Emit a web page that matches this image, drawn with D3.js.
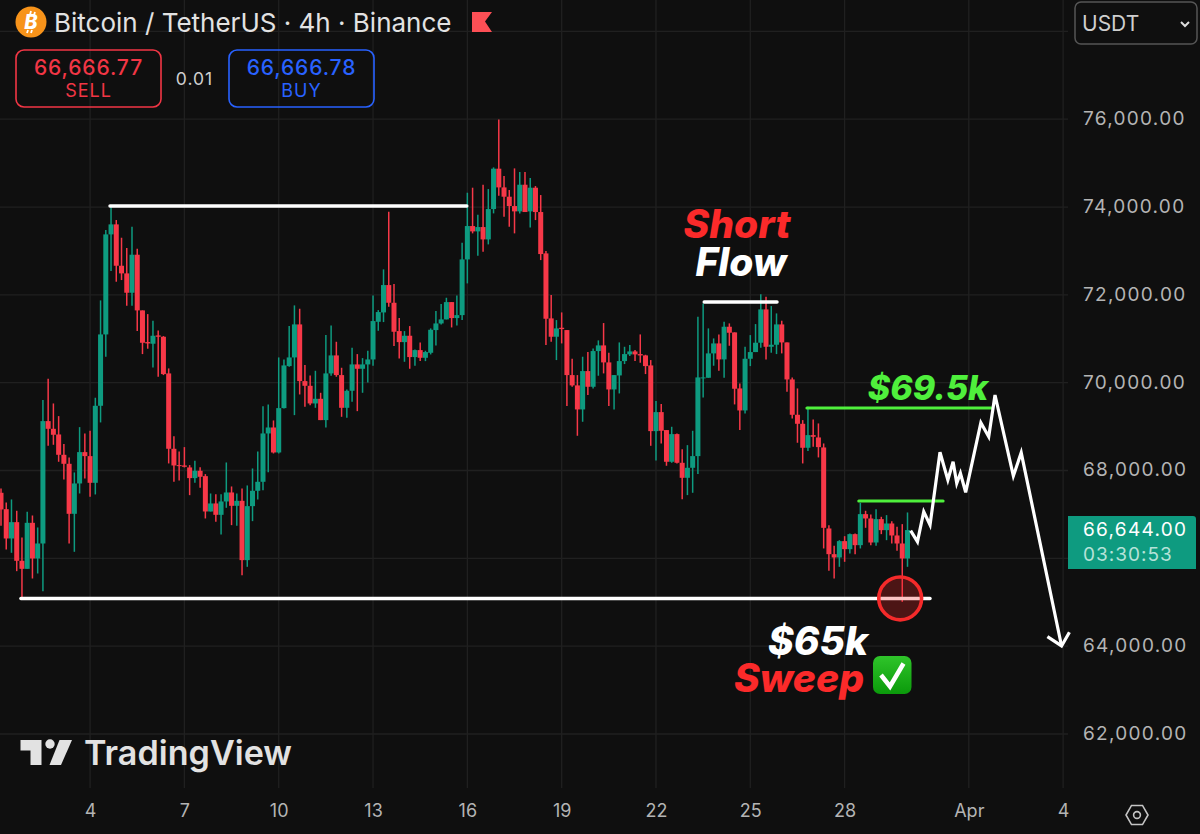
<!DOCTYPE html>
<html>
<head>
<meta charset="utf-8">
<style>
  html, body { margin: 0; padding: 0; background: #0f0f0f; }
  svg { display: block; font-family: Inter, "Noto Sans", sans-serif; }
  .annot { font-family: Inter, "Liberation Sans", sans-serif; font-weight: 800; font-style: italic; text-anchor: middle; }
</style>
<script src="https://cdn.jsdelivr.net/npm/d3@7/dist/d3.min.js"></script>
</head>
<body>
<svg id="chart" width="1200" height="834"></svg>
<script>
// BTC/USDT 4h candles, oldest first
const opens = [
67493,67120,66452,66824,65944,65761,66809,65997,66338,69125,
68950,68821,68358,68153,67014,67705,68419,68328,67720,69474,
71099,73377,73605,72663,72489,72048,72914,71646,70925,70887,
71076,71046,70211,68495,68123,68115,68070,67827,67994,67872,
67067,67250,66991,67295,67500,67196,67310,65959,67189,67538,
67743,68844,68980,68411,69421,70378,70575,71327,70036,69929,
69527,69633,69148,70211,70621,70173,69428,69816,70416,70317,
70416,70529,71387,71600,72223,71820,71175,70924,71069,70583,
70742,70567,70681,71198,71349,71441,71835,71471,71539,72807,
73567,73445,73544,73263,73954,74873,74447,74235,74022,73901,
74508,73901,74440,73886,72944,71464,71046,71251,71198,70173,
69938,69391,70264,69907,70720,70849,70462,69846,70165,70492,
70644,70712,70651,70621,70393,68897,69330,68921,68199,68829,
68176,67834,68062,68328,70105,70112,70667,70894,70530,71274,
71145,69869,69368,70545,70697,70910,71669,70818,70864,71327,
70917,70074,69269,69064,68518,68806,68753,68525,66680,66095,
66020,66392,66209,66551,66300,67007,66908,66361,66893,66642,
66794,66521,66338,65997];
const closes = [
67113,66452,66824,65944,65761,66809,65997,66338,69125,68950,
68814,68358,68153,67014,67705,68419,68328,67720,69474,71099,
73377,73605,72663,72489,72048,72914,71646,70909,70894,71069,
71046,70196,68495,68115,68100,68085,67827,67994,67857,67067,
67250,66991,67295,67500,67196,67310,65959,67189,67538,67743,
68844,68980,68411,69421,70393,70575,71327,70036,69929,69527,
69633,69148,70211,70621,70173,69428,69816,70416,70317,70416,
70529,71403,71608,72223,71820,71160,70924,71069,70583,70742,
70567,70697,71205,71349,71441,71835,71471,71539,72807,73567,
73445,73544,73263,73954,74873,74447,74235,74022,73901,74508,
73886,74440,73886,72929,71456,71046,71236,71221,70173,69938,
69391,70264,69907,70720,70849,70462,69846,70173,70492,70651,
70712,70644,70621,70378,68897,69330,68905,68199,68829,68176,
67834,68062,68328,70120,70120,70667,70894,70530,71274,71137,
69862,69368,70545,70697,70910,71669,70818,70864,71327,70917,
70074,69269,69064,68518,68806,68768,68533,66695,66095,66020,
66392,66209,66551,66300,67007,66908,66361,66893,66642,66794,
66521,66338,65997,66644];
const highs = [
67591,67272,67341,67083,66475,67060,66976,66703,69603,70089,
69527,69239,68601,68297,67956,68988,68844,68905,69657,71874,
73476,74007,73704,73301,73066,73552,73051,71646,71562,71411,
71190,71061,70325,68783,68434,68533,68123,68221,68077,67918,
67477,67462,67462,68183,67637,67477,67591,67660,68047,68434,
69466,69504,69140,70575,70529,71289,71760,71684,70400,70165,
70271,69770,71084,71304,70932,70340,69846,70795,70651,70560,
70727,71987,71653,72580,73893,72245,71471,71175,71289,70757,
70917,70727,71236,71630,71790,71934,71835,71987,73187,74326,
74440,73825,74508,74409,74903,75996,74706,74387,74880,74797,
74797,74660,74478,74273,73000,71995,71426,71600,71198,70545,
70173,70591,70697,70780,70963,71358,70682,70173,70917,70818,
70856,70742,71099,70636,70515,69581,69512,68921,68996,68844,
68487,68578,68905,71502,71805,71236,71008,71099,71388,71350,
71145,69983,70818,71084,71335,72011,71957,71745,71578,71411,
70917,70120,69869,69148,69452,69163,69072,68616,66756,66285,
66414,66505,66566,66566,67265,67083,66999,67120,66946,66984,
66847,66718,66779,67045];
const lows = [
66741,66202,66126,65708,65108,65761,65541,65655,65253,68563,
68586,68199,67796,66338,66149,67477,67819,67401,67455,69095,
70590,72542,72299,72337,71752,71752,71175,70651,70773,70348,
70135,70173,68161,67743,67774,68070,67439,67720,67606,66908,
67067,66832,66543,67151,66756,66741,65617,65807,66847,67341,
67553,67963,68388,68388,69413,70362,69261,69732,69451,69489,
69428,69148,68980,70157,70135,69223,69201,69565,69352,69770,
70005,70385,71182,71380,71729,70833,70552,70476,70317,70385,
70491,70491,70643,70848,71327,71441,71258,71304,71425,72261,
73400,72891,72982,73149,73855,74258,73779,73551,73400,73855,
73886,73536,73703,72792,70856,70932,70515,70894,69467,69907,
68791,69110,69717,69869,70158,70211,69467,69391,69755,70424,
70606,70492,70454,70196,68563,68229,68616,68108,68176,68161,
67348,67440,67493,67918,69664,70112,70386,70272,70112,70841,
69505,68920,69300,70378,70697,70796,70530,70682,70651,70667,
69793,69186,68632,68161,68442,68541,68298,66225,65716,65541,
65807,65921,66111,66095,66225,66695,66300,66285,66551,66414,
66338,66171,65010,65807];

// Axis ticks: bar index of each date label, and the price levels
const dateTickBars = [17, 35, 53, 71, 89, 107, 125, 143, 161, 184.7, 202.7];
const dateTickLabels = ["4", "7", "10", "13", "16", "19", "22", "25", "28", "Apr", "4"];
const priceTicks = [76000, 74000, 72000, 70000, 68000, 64000, 62000];
const priceGrid = [78000, 76000, 74000, 72000, 70000, 68000, 66000, 64000, 62000];

// Drawn levels: [startBar, endBar, price]
const whiteLevels = [[20.8, 88.9, 74024], [134.2, 148.1, 71838], [3.8, 177.3, 65087]];
const greenLevels = [[153.8, 189, 69424], [163.7, 179.8, 67307]];

// Projected price route, drawn past the last candle
const routeBars = [173.6,174.9,176.1,177.3,179.2,180.7,181.7,182.4,183.1,184.1,187.0,188.5,189.7,193.2,194.7,202.4];
const routePrices = [66630,66380,67063,66760,68415,67785,68201,67709,67937,67504,69089,68770,69720,67876,68406,64005];
const arrowBars = [199.7, 202.4, 203.9];
const arrowPrices = [64217, 64005, 64317];

const sweepPoint = [171.6, 65087];

const colors = {
  bg: "#0f0f0f", grid: "#202020", up: "#0e9b80", down: "#f73848",
  axisText: "#b4b4b4", title: "#e2e2e2", neon: "#4ff03c", alert: "#f52a2a", blue: "#2962ff"
};

const svg = d3.select("#chart");
svg.append("rect").attr("width", 1200).attr("height", 834).attr("fill", colors.bg);

const x = d3.scaleLinear().domain([0, 203]).range([1, 1064.7]);
const y = d3.scaleLinear().domain([76000, 62000]).range([119.2, 734]);
const plotRight = 1068, plotBottom = 788;

// Grid
const grid = svg.append("g").attr("stroke", colors.grid).attr("stroke-width", 1.3);
grid.selectAll("line.h").data(priceGrid).join("line").attr("class", "h")
  .attr("x1", 0).attr("x2", plotRight).attr("y1", y).attr("y2", y);
grid.selectAll("line.v").data(dateTickBars).join("line").attr("class", "v")
  .attr("x1", x).attr("x2", x).attr("y1", 0).attr("y2", plotBottom);

// Candles
const candles = closes.map((c, i) => ({ i, o: opens[i], h: highs[i], l: lows[i], c }));
const candleColor = d => d.c >= d.o ? colors.up : colors.down;
const plot = svg.append("g");
plot.selectAll("line.wick").data(candles).join("line").attr("class", "wick")
  .attr("x1", d => x(d.i)).attr("x2", d => x(d.i))
  .attr("y1", d => y(d.h)).attr("y2", d => y(d.l))
  .attr("stroke", candleColor).attr("stroke-width", 1.5);
const bodyWidth = 5;
plot.selectAll("rect.body").data(candles).join("rect").attr("class", "body")
  .attr("x", d => x(d.i) - bodyWidth / 2).attr("width", bodyWidth)
  .attr("y", d => y(Math.max(d.o, d.c)))
  .attr("height", d => Math.max(1, Math.abs(y(d.o) - y(d.c))))
  .attr("fill", candleColor);

// Level lines
const levels = svg.append("g").attr("stroke-linecap", "round");
levels.selectAll("line.w").data(whiteLevels).join("line").attr("class", "w")
  .attr("x1", d => x(d[0])).attr("x2", d => x(d[1]))
  .attr("y1", d => y(d[2])).attr("y2", d => y(d[2]))
  .attr("stroke", "#fff").attr("stroke-width", 3.4);
levels.selectAll("line.g").data(greenLevels).join("line").attr("class", "g")
  .attr("x1", d => x(d[0])).attr("x2", d => x(d[1]))
  .attr("y1", d => y(d[2])).attr("y2", d => y(d[2]))
  .attr("stroke", colors.neon).attr("stroke-width", 3);

// Projected route and arrow head
const routeLine = d3.line().x(d => x(d[0])).y(d => y(d[1]));
svg.append("path").datum(routeBars.map((b, i) => [b, routePrices[i]]))
  .attr("d", routeLine).attr("fill", "none").attr("stroke", "#fff")
  .attr("stroke-width", 3.2).attr("stroke-linejoin", "miter");
svg.append("path").datum(arrowBars.map((b, i) => [b, arrowPrices[i]]))
  .attr("d", routeLine).attr("fill", "none").attr("stroke", "#fff")
  .attr("stroke-width", 3.2);

// Sweep marker
svg.append("circle")
  .attr("cx", x(sweepPoint[0])).attr("cy", y(sweepPoint[1])).attr("r", 21.4)
  .attr("fill", colors.alert).attr("fill-opacity", 0.27)
  .attr("stroke", colors.alert).attr("stroke-width", 3.6);

// Callout text
const annot = (text, cx, base, size, fill) => svg.append("text").attr("class", "annot")
  .attr("x", cx).attr("y", base).attr("font-size", size).attr("fill", fill).text(text);
annot("Short", 737, 238, 39, "#fb2a2a");
annot("Flow", 741, 276, 39, "#fff");
annot("$69.5k", 928, 400, 34, colors.neon);
annot("$65k", 818, 655, 39, "#fff");
annot("Sweep", 799, 692, 39, "#fb2a2a");

// Check mark badge beside the sweep callout
const badge = svg.append("g");
const defs = svg.append("defs");
const grad = defs.append("linearGradient").attr("id", "badgeFill").attr("x1", 0).attr("x2", 0).attr("y1", 0).attr("y2", 1);
grad.append("stop").attr("offset", 0).attr("stop-color", "#2fc42a");
grad.append("stop").attr("offset", 1).attr("stop-color", "#0b9a0b");
badge.append("rect").attr("x", 873).attr("y", 656).attr("width", 38.5).attr("height", 38).attr("rx", 7).attr("fill", "url(#badgeFill)");
badge.append("path").attr("d", "M881 675 L890 686.5 L903.5 663.5").attr("fill", "none").attr("stroke", "#fff").attr("stroke-width", 4.5);

// Price axis
const yAxis = svg.append("g").attr("transform", "translate(1083,-0.7)")
  .call(d3.axisRight(y).tickValues(priceTicks).tickSize(0).tickPadding(0).tickFormat(d3.format(",.2f")));
yAxis.select(".domain").remove();
yAxis.selectAll("text").attr("fill", colors.axisText).attr("font-size", 19).attr("letter-spacing", 1.3).attr("font-family", "Inter");

// Date axis
const xAxis = svg.append("g").attr("transform", "translate(0,804)")
  .call(d3.axisBottom(x).tickValues(dateTickBars).tickSize(0).tickPadding(0)
    .tickFormat((d, i) => dateTickLabels[i]));
xAxis.select(".domain").remove();
xAxis.selectAll("text").attr("fill", colors.axisText).attr("font-size", 18).attr("font-family", "Inter");

// Last price tag
svg.append("path").attr("d", "M1068 516 H1193 a3 3 0 0 1 3 3 V569 H1068 Z").attr("fill", "#0e9b80");
svg.append("text").attr("x", 1083).attr("y", 536).attr("font-size", 19).attr("letter-spacing", 1.3).attr("fill", "#fff").text("66,644.00");
svg.append("text").attr("x", 1083).attr("y", 561).attr("font-size", 19).attr("letter-spacing", 1).attr("fill", "#b5e2d8").text("03:30:53");

// Symbol header
const coin = svg.append("g").attr("transform", "translate(31,22)");
coin.append("circle").attr("r", 15.5).attr("fill", "#f7931a");
coin.append("text").attr("text-anchor", "middle").attr("y", 7).attr("font-size", 20).attr("font-weight", 800)
  .attr("font-style", "italic").attr("fill", "#fff").text("B");
coin.append("path").attr("d", "M0 -11 L-1 -7 M4 -10 L3 -7 M-3 8 L-4 11 M1 8 L0 11").attr("stroke", "#fff").attr("stroke-width", 1.8);
svg.append("text").attr("x", 54).attr("y", 32).attr("font-size", 26).attr("fill", colors.title)
  .text("Bitcoin / TetherUS · 4h · Binance");
svg.append("path").attr("d", "M472 12 H492 L485 21.5 L492 32 H472 Z").attr("fill", "#fd4f55");

// Order buttons
const button = (bx, color, price, side) => {
  const g = svg.append("g");
  g.append("rect").attr("x", bx).attr("y", 50).attr("width", 145).attr("height", 57).attr("rx", 8)
    .attr("fill", "none").attr("stroke", color).attr("stroke-width", 1.6);
  g.append("text").attr("x", bx + 72.5).attr("y", 74.5).attr("text-anchor", "middle").attr("font-size", 21)
    .attr("font-weight", 500).attr("letter-spacing", 0.9).attr("fill", color).text(price);
  g.append("text").attr("x", bx + 72.5).attr("y", 97).attr("text-anchor", "middle").attr("font-size", 18)
    .attr("letter-spacing", 1).attr("fill", color).text(side);
};
button(16, "#f23645", "66,666.77", "SELL");
button(229, "#2962ff", "66,666.78", "BUY");
svg.append("text").attr("x", 194.5).attr("y", 85).attr("text-anchor", "middle").attr("font-size", 17.5)
  .attr("letter-spacing", 1).attr("fill", "#cfcfcf").text("0.01");

// Currency selector
svg.append("rect").attr("x", 1075).attr("y", 2).attr("width", 122).attr("height", 42).attr("rx", 6)
  .attr("fill", "none").attr("stroke", "#555").attr("stroke-width", 1.5);
svg.append("text").attr("x", 1082).attr("y", 31).attr("font-size", 21).attr("fill", "#cfcfcf").text("USDT");
svg.append("path").attr("d", "M1181 22 L1185 26 L1189 22").attr("fill", "none").attr("stroke", "#ddd").attr("stroke-width", 2);

// Watermark
const mark = svg.append("g").attr("fill", "#e2e2e2");
mark.append("path").attr("d", "M20.5 740 H41.5 V765 H30.5 V750.5 H20.5 Z");
mark.append("circle").attr("cx", 50).attr("cy", 744).attr("r", 4.7);
mark.append("path").attr("d", "M59.5 740 H72 L61 765 H49.5 Z");
mark.append("text").attr("x", 84).attr("y", 765).attr("font-size", 34).attr("font-weight", 600)
  .attr("textLength", 208).attr("lengthAdjust", "spacingAndGlyphs").text("TradingView");

// Chart settings button
const hexR = 11;
svg.append("path").attr("fill", "none").attr("stroke", "#c4c4c4").attr("stroke-width", 1.6)
  .attr("d", d3.line()(d3.range(6).map(k => [1137 + hexR * Math.cos(k * Math.PI / 3), 815 + hexR * Math.sin(k * Math.PI / 3)])) + "Z");
svg.append("circle").attr("cx", 1137).attr("cy", 815).attr("r", 3.4).attr("fill", "none").attr("stroke", "#c4c4c4").attr("stroke-width", 1.6);
</script>
</body>
</html>
